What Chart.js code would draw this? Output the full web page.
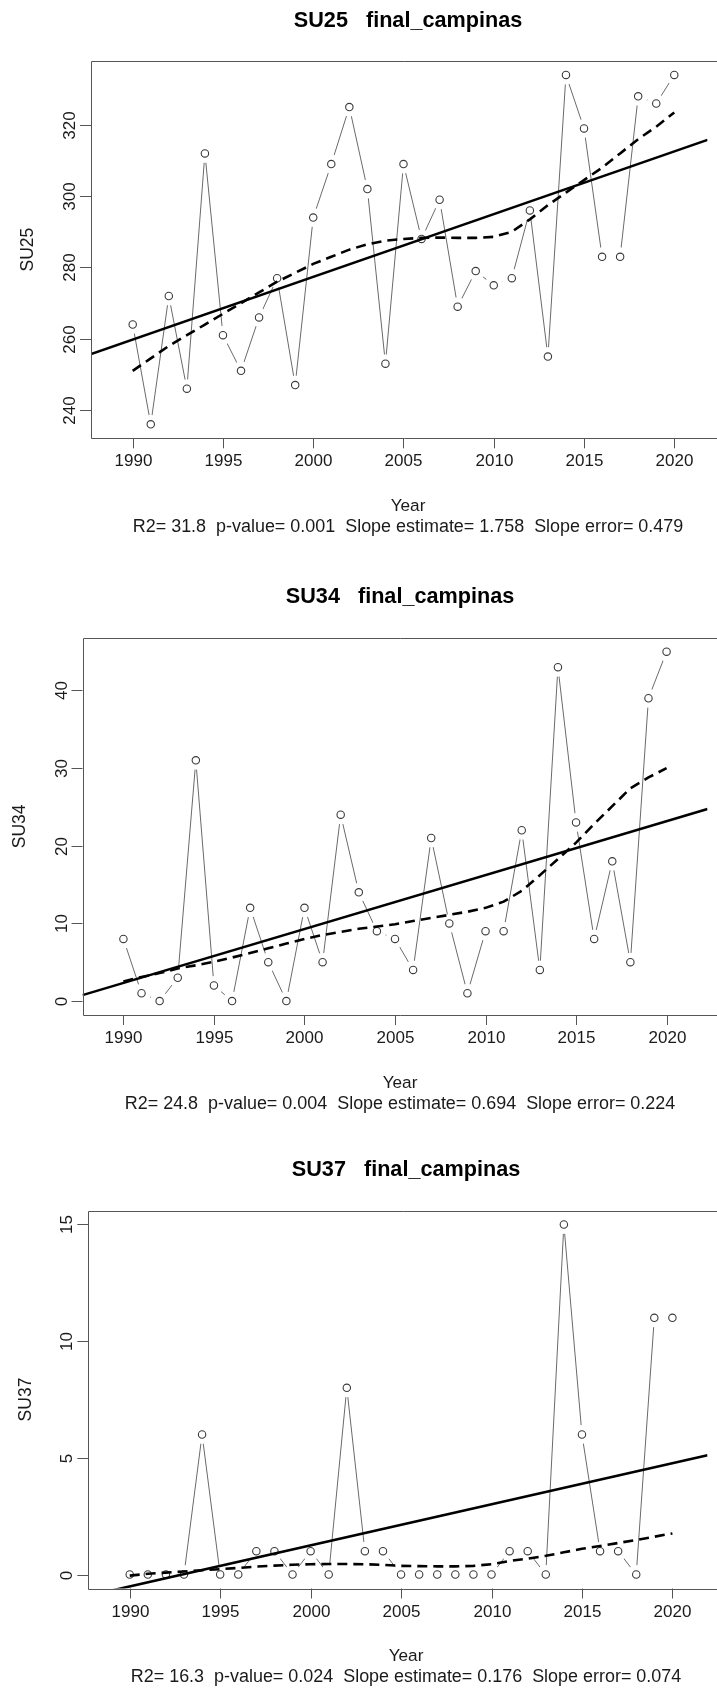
<!DOCTYPE html>
<html><head><meta charset="utf-8">
<script src="https://cdn.jsdelivr.net/npm/chart.js@4.4.0/dist/chart.umd.min.js"></script>
<style>
html,body{margin:0;padding:0;background:#fff;overflow:hidden;width:717px;height:1689px}
canvas{position:absolute;left:0}
</style></head><body>
<canvas id="c1" width="717" height="545" style="top:0px"></canvas>
<canvas id="c2" width="717" height="555" style="top:560px"></canvas>
<canvas id="c3" width="717" height="569" style="top:1120px"></canvas>
<script>
// ---------- data ----------
const years = [1990,1991,1992,1993,1994,1995,1996,1997,1998,1999,2000,2001,2002,2003,2004,2005,2006,2007,2008,2009,2010,2011,2012,2013,2014,2015,2016,2017,2018,2019,2020];
const xTicks = [1990,1995,2000,2005,2010,2015,2020];

const su25 = [264,236,272,246,312,261,251,266,277,247,294,309,325,302,253,309,288,299,269,279,275,277,296,255,334,319,283,283,328,326,334];
const su25Smooth = [251,254.5,258,261,264,267,270,273,276,278.5,281,283,285,286.5,287.5,288,288.3,288.4,288.3,288.3,288.6,290,293.5,297.5,301,304.5,308,312,316,319.5,323.5];
const su25TrendX = [1987.69,2021.84];
const su25TrendY = [255.7,315.8];
const su25YTicks = [240,260,280,300,320];

const su34 = [8,1,0,3,31,2,0,12,5,0,12,5,24,14,9,8,4,21,10,1,9,9,22,4,43,23,8,18,5,39,45];
const su34Smooth = [2.5,3.1,3.6,4.2,4.6,5.05,5.6,6.2,6.8,7.4,8.0,8.5,8.9,9.3,9.6,9.9,10.3,10.7,11.1,11.5,12.0,12.8,14.2,16.2,18.3,20.4,22.8,25.1,27.4,28.8,30.0];
const su34TrendX = [1987.74,2022.26];
const su34TrendY = [0.76,24.75];
const su34YTicks = [0,10,20,30,40];

const su37 = [0,0,0,0,6,0,0,1,1,0,1,0,8,1,1,0,0,0,0,0,0,1,1,0,15,6,1,1,0,11,11];
const su37Smooth = [-0.05,0.03,0.08,0.13,0.18,0.23,0.28,0.34,0.38,0.42,0.44,0.45,0.45,0.44,0.41,0.37,0.36,0.35,0.35,0.37,0.44,0.58,0.68,0.8,0.95,1.1,1.22,1.35,1.48,1.62,1.76];
const su37TrendX = [1987.71,2021.94];
const su37TrendY = [-0.914,5.11];
const su37YTicks = [0,5,10,15];

const titles = ["SU25   final_campinas","SU34   final_campinas","SU37   final_campinas"];
const yLabels = ["SU25","SU34","SU37"];
const xLabel = "Year";
const stats = [
  "R2= 31.8  p-value= 0.001  Slope estimate= 1.758  Slope error= 0.479",
  "R2= 24.8  p-value= 0.004  Slope estimate= 0.694  Slope error= 0.224",
  "R2= 16.3  p-value= 0.024  Slope estimate= 0.176  Slope error= 0.074"
];

// ---------- layout (per panel) ----------
const panels = [
  {id:'c1', vals:su25, smooth:su25Smooth, tx:su25TrendX, ty:su25TrendY, yt:su25YTicks,
   xmin:1987.69, xmax:2021.84, ymin:232.08, ymax:337.92, top:61, bottom:438.3, left:91, cx:408},
  {id:'c2', vals:su34, smooth:su34Smooth, tx:su34TrendX, ty:su34TrendY, yt:su34YTicks,
   xmin:1987.74, xmax:2022.26, ymin:-1.8, ymax:46.8, top:77.7, bottom:455, left:82.5, cx:400},
  {id:'c3', vals:su37, smooth:su37Smooth, tx:su37TrendX, ty:su37TrendY, yt:su37YTicks,
   xmin:1987.71, xmax:2021.94, ymin:-0.6, ymax:15.6, top:90.5, bottom:468.5, left:88.3, cx:406}
];

const FONT = '"Liberation Sans", Arial, Helvetica, sans-serif';

function fitFont(ctx, text, weight, target, base){
  ctx.font = weight + ' ' + base + 'px ' + FONT;
  const w = ctx.measureText(text).width;
  return base * target / w;
}

const rPlot = {
  id: 'rPlot',
  afterDraw(chart, args, o) {
    const {ctx, chartArea: a, scales: {x, y}} = chart;
    const W = chart.width;
    ctx.save();
    ctx.strokeStyle = '#555';
    ctx.lineWidth = 1;
    // box (top, left, bottom)
    ctx.beginPath();
    ctx.moveTo(W + 2, Math.round(a.top) + 0.5);
    ctx.lineTo(Math.round(a.left) + 0.5, Math.round(a.top) + 0.5);
    ctx.lineTo(Math.round(a.left) + 0.5, Math.round(a.bottom) + 0.5);
    ctx.lineTo(W + 2, Math.round(a.bottom) + 0.5);
    ctx.stroke();

    const fs = 17;
    ctx.fillStyle = '#1a1a1a';
    ctx.font = fs + 'px ' + FONT;
    // x ticks
    ctx.textAlign = 'center';
    ctx.textBaseline = 'alphabetic';
    x.ticks.forEach(t => {
      const px = Math.round(x.getPixelForValue(t.value)) + 0.5;
      ctx.beginPath();
      ctx.moveTo(px, a.bottom);
      ctx.lineTo(px, a.bottom + 10);
      ctx.stroke();
      ctx.fillText(String(t.value), px, a.bottom + 22 + fs * 0.358);
    });
    // y ticks (rotated labels like R)
    y.ticks.forEach(t => {
      const py = Math.round(y.getPixelForValue(t.value)) + 0.5;
      ctx.beginPath();
      ctx.moveTo(a.left - 11, py);
      ctx.lineTo(a.left, py);
      ctx.stroke();
      ctx.save();
      ctx.translate(a.left - 22 + fs * 0.358, py);
      ctx.rotate(-Math.PI / 2);
      ctx.fillText(String(t.value), 0, 0);
      ctx.restore();
    });
    // y axis title
    ctx.save();
    ctx.font = '17.5px ' + FONT;
    ctx.translate(a.left - 64 + 17.5 * 0.358, (a.top + a.bottom) / 2);
    ctx.rotate(-Math.PI / 2);
    ctx.fillText(o.ylab, 0, 0);
    ctx.restore();
    // x axis title
    ctx.font = '17.2px ' + FONT;
    ctx.fillText(xLabel, o.cx, a.bottom + 66.5 + 17.2 * 0.358);
    // stats line
    const sf = fitFont(ctx, o.stat, '', 551, 17);
    ctx.font = sf + 'px ' + FONT;
    ctx.fillText(o.stat, o.cx, a.bottom + 87.5 + sf * 0.358);
    // main title
    const tf = fitFont(ctx, o.title, 'bold', 228.5, 20);
    ctx.font = 'bold ' + tf + 'px ' + FONT;
    ctx.fillStyle = '#000';
    ctx.fillText(o.title, o.cx, a.top - 42.2 + tf * 0.358);
    ctx.restore();
  }
};

panels.forEach((p, i) => {
  const cv = document.getElementById(p.id);
  const H = cv.height;
  const pts = years.map((yr, k) => ({x: yr, y: p.vals[k]}));
  const sm = years.map((yr, k) => ({x: yr, y: p.smooth[k]}));
  const tr = p.tx.map((v, k) => ({x: v, y: p.ty[k]}));
  new Chart(cv, {
    type: 'scatter',
    data: {
      datasets: [
        {data: tr, showLine: true, borderColor: '#000', borderWidth: 2.6, pointRadius: 0, order: 1},
        {data: sm, showLine: true, borderColor: '#000', borderWidth: 2.6, borderDash: [10, 6], pointRadius: 0, order: 2},
        {data: pts, showLine: false, pointRadius: 3.7, pointBorderWidth: 1.1, pointBorderColor: '#3a3a3a', pointBackgroundColor: '#fff', order: 3},
        {data: pts, showLine: false, pointRadius: 9.5, pointBorderWidth: 0, pointBorderColor: '#fff', pointBackgroundColor: '#fff', order: 4},
        {data: pts, showLine: true, borderColor: '#6a6a6a', borderWidth: 1, pointRadius: 0, order: 5}
      ]
    },
    options: {
      responsive: false,
      animation: false,
      events: [],
      devicePixelRatio: 1,
      layout: {padding: {top: p.top, left: 0, right: 0, bottom: 0}},
      plugins: {
        legend: {display: false},
        tooltip: {enabled: false},
        rPlot: {title: titles[i], ylab: yLabels[i], stat: stats[i], cx: p.cx}
      },
      scales: {
        x: {
          type: 'linear', min: p.xmin, max: p.xmax,
          grid: {display: false}, border: {display: false},
          ticks: {display: false, includeBounds: false},
          afterBuildTicks: s => { s.ticks = xTicks.map(v => ({value: v})); },
          afterFit: s => { s.height = H - p.bottom; }
        },
        y: {
          type: 'linear', min: p.ymin, max: p.ymax,
          grid: {display: false}, border: {display: false},
          ticks: {display: false, includeBounds: false},
          afterBuildTicks: s => { s.ticks = p.yt.map(v => ({value: v})); },
          afterFit: s => { s.width = p.left; }
        }
      }
    },
    plugins: [rPlot]
  });
});
</script>
</body></html>
